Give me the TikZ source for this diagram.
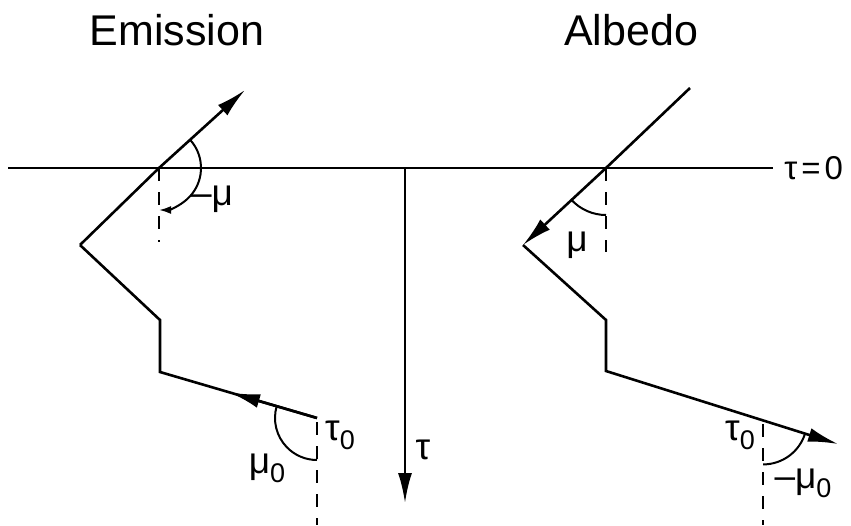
\documentclass[tikz,border=0pt]{standalone}
\usepackage{fontspec}
\setmainfont{Liberation Sans}
\usetikzlibrary{arrows.meta}
\newcommand{\lowsub}[1]{\raisebox{-0.45ex}{\fontsize{27}{27}\selectfont #1}}

\begin{document}
\begin{tikzpicture}[x=1pt,y=1pt,line width=2.6pt,
    arr/.style={-{Latex[length=30pt,width=14pt]}},
    vdash/.style={line width=2pt,dash pattern=on 13pt off 11pt},
    thin/.style={line width=2pt},
    lbl/.style={font=\fontsize{37}{40}\selectfont},
    ttl/.style={font=\fontsize{43}{46}\selectfont}]
    \useasboundingbox (0,-357) rectangle (851,168);

    % surface and depth axis
    \coordinate (s1) at (8,0);
    \coordinate (s2) at (773,0);
    \coordinate (t1) at (405,0);
    \coordinate (t2) at (405,-335);
    \draw (s1) -- (s2);
    \draw[arr] (t1) -- (t2);
    \node[font=\fontsize{33}{36}\selectfont,anchor=west,inner sep=0pt] (surf) at (783,0) {τ\hspace{4pt}=\hspace{4pt}0};
    \node[lbl] (tau) at (423,-282) {τ};

    % emission
    \node[ttl] (emis) at (177,138) {Emission};
    \coordinate (e0) at (159,0);
    \coordinate (e1) at (245,78);
    \coordinate (e2) at (80,-77);
    \coordinate (e3) at (160,-152);
    \coordinate (e4) at (160,-204);
    \coordinate (e5) at (317,-250);
    \path (e5) -- (e4) coordinate[pos=0.554] (em);
    \draw[arr] (e2) -- (e0) -- (e1);
    \draw (e2) -- (e3) -- (e4) -- (e5);
    \draw[arr] (e5) -- (em);
    \draw[vdash] (e0) -- ++(0,-74);
    \draw[vdash] (317,-254) -- (317,-357);
    \draw[thin,-{Latex[length=12pt,width=8pt]}] (e0) ++(42:42) arc (42:-90:42);
    \draw[thin] (e5) ++(163.7:42) arc (163.7:270:42);
    \node[lbl] (emu) at (212,-31) {–μ};
    \node[lbl] (et0) at (340,-267) {τ\lowsub{0}};
    \node[lbl] (emu0) at (267,-300) {μ\lowsub{0}};

    % albedo
    \node[ttl] (albe) at (631,138) {Albedo};
    \coordinate (a1) at (690,80);
    \coordinate (a0) at (606,0);
    \coordinate (a2) at (523,-77);
    \coordinate (a3) at (606,-152);
    \coordinate (a4) at (606,-203);
    \coordinate (a6) at (838,-276);
    \path (a4) -- (a6) coordinate[pos=0.677] (a5);
    \draw[arr] (a1) -- (a0) -- (a2);
    \draw[arr] (a2) -- (a3) -- (a4) -- (a6);
    \draw[vdash] (a0) -- ++(0,-84);
    \draw[vdash] (763,-256) -- (763,-357);
    \draw[thin] (a0) ++(223:47) arc (223:270:47);
    \draw[thin] (a5) ++(270:44) arc (270:342.5:44);
    \node[lbl] (amu) at (577,-77) {μ};
    \node[lbl] (at0) at (740,-267) {τ\lowsub{0}};
    \node[lbl] (amu0) at (803,-315) {–μ\lowsub{0}};
\end{tikzpicture}
\end{document}
